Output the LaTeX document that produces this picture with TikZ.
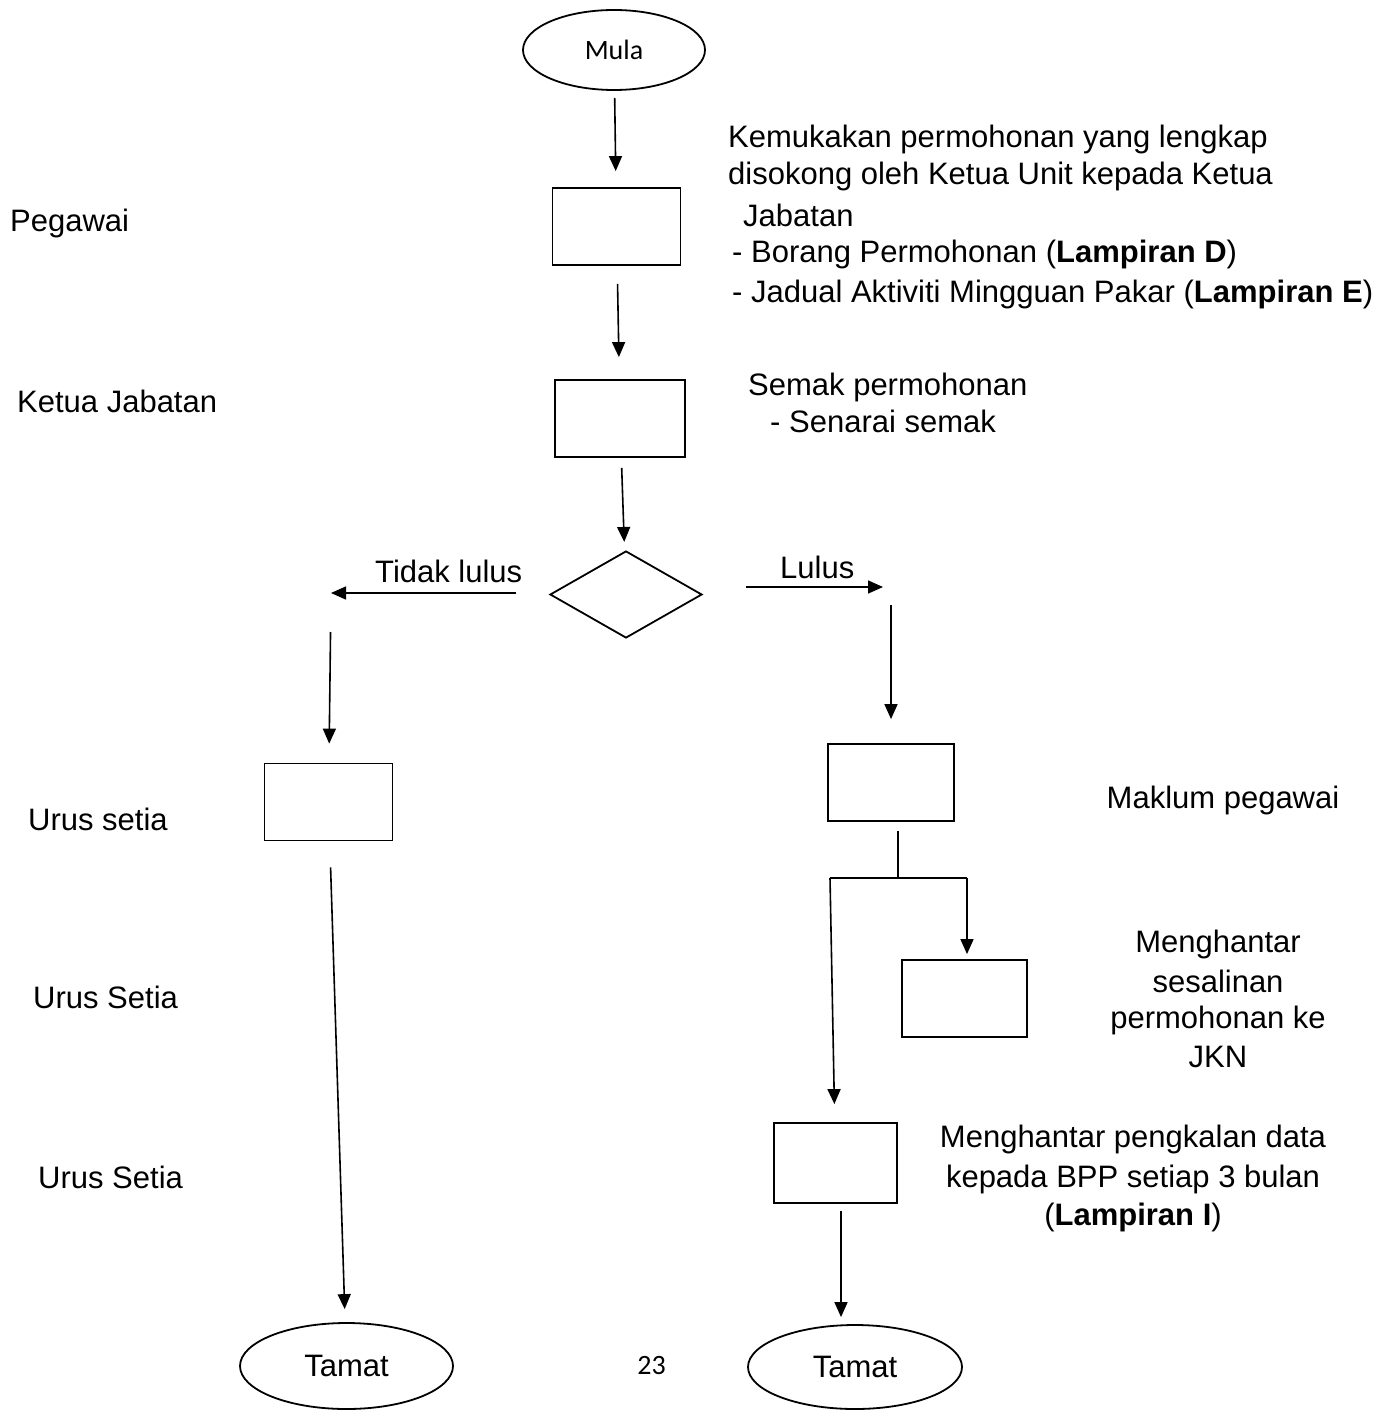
\documentclass[tikz,border=0pt]{standalone}
\usepackage{fontspec}
\setmainfont{Liberation Sans}
\newfontfamily\calfont{Carlito}
\usetikzlibrary{shapes.geometric,arrows.meta}
\begin{document}
\begin{tikzpicture}[x=1pt,y=-1pt,
  flowbox/.style={draw, line width=1.8pt, minimum width=128pt, minimum height=77pt, inner sep=0pt},
  term/.style={draw, ellipse, line width=1.8pt, inner sep=0pt, font=\fontsize{31}{36}\selectfont},
  dec/.style={draw, diamond, line width=1.8pt, minimum width=152pt, minimum height=87pt, aspect=1.75, inner sep=0pt},
  arr/.style={line width=1.6pt, -{Triangle[length=15pt,width=13pt]}},
  ln/.style={line width=1.6pt},
  lbl/.style={font=\fontsize{31}{36}\selectfont, inner sep=0pt, anchor=base west},
  clbl/.style={font=\fontsize{31}{36}\selectfont, inner sep=0pt, anchor=base}]
\useasboundingbox (0,0) rectangle (1375,1412);

% shapes
\node[term, minimum width=182pt, minimum height=80pt, font=\calfont\fontsize{28}{30}\selectfont] (mula) at (614,50) {Mula};
\node[flowbox] (b1) at (616.5,226.5) {};
\node[flowbox, minimum width=130pt] (b2) at (620,418.5) {};
\node[dec] (d) at (626,594.5) {};
\node[flowbox] (urus) at (328.5,802) {};
\node[flowbox, minimum width=126pt] (mak) at (891,782.5) {};
\node[flowbox, minimum width=125pt] (jkn) at (964.5,998.5) {};
\node[flowbox, minimum width=123pt, minimum height=80pt] (bpp) at (835.5,1163) {};
\node[term, minimum width=213pt, minimum height=86pt] (tamatL) at (346.5,1366) {Tamat};
\node[term, minimum width=214pt, minimum height=84pt] (tamatR) at (855,1367) {Tamat};
\node[font=\calfont\fontsize{28}{30}\selectfont, inner sep=0pt] (pg) at (651.5,1365.5) {23};

% helper coordinates
\coordinate (tl) at (331,593);
\coordinate (lr) at (883,587);
\coordinate (lrd) at (891,605);
\coordinate (sp) at (898,878);
\coordinate (spl) at (830,878);
\coordinate (spr) at (967,878);

% connectors
\draw[arr, shorten <=7pt, shorten >=16pt] (mula) -- (b1);
\draw[arr, shorten <=18pt, shorten >=22pt] (b1) -- (b2);
\draw[arr, shorten <=10pt, shorten >=9pt] (b2) -- (d);
\draw[arr, shorten <=33pt] (d.west |- tl) -- (tl);
\draw[arr, shorten <=43pt] (d.east |- lr) -- (lr);
\draw[arr, shorten <=39pt, shorten >=19pt] (tl) -- (urus);
\draw[arr, shorten >=24pt] (lrd) -- (mak);
\draw[arr, shorten <=26pt, shorten >=13pt] (urus) -- (tamatL);
\draw[ln, shorten <=9pt] (mak.south -| sp) -- (sp);
\draw[ln] (spl) -- (spr);
\draw[arr, shorten >=5pt] (spr) -- (jkn.north -| spr);
\draw[arr, shorten >=18pt] (spl) -- (bpp);
\draw[arr, shorten <=7pt, shorten >=7pt] ([xshift=5.5pt]bpp.south) -- ([xshift=-14pt]tamatR.north);

% connector labels
\node[lbl] (tltext) at (375,582) {Tidak lulus};
\node[lbl] (lrtext) at (780,578) {Lulus};

% left role labels
\node[lbl] (pegawai) at (10,232) {Pegawai};
\node[lbl] (kj) at (17,412) {Ketua Jabatan};
\node[lbl] (us1) at (28,830) {Urus setia};
\node[lbl] (us2) at (33,1008) {Urus Setia};
\node[lbl] (us3) at (38,1188) {Urus Setia};

% right descriptions
\node[lbl] (t1) at (728,148) {Kemukakan permohonan yang lengkap};
\node[lbl] (t2) at (728,185) {disokong oleh Ketua Unit kepada Ketua};
\node[lbl] (t3) at (743,227) {Jabatan};
\node[lbl] (t4) at (732,263) {- Borang Permohonan (\textbf{Lampiran D})};
\node[lbl] (t5) at (732,302) {- Jadual Aktiviti Mingguan Pakar (\textbf{Lampiran E})};
\node[lbl] (s1) at (748,395) {Semak permohonan};
\node[lbl] (s2) at (770,432) {- Senarai semak};
\node[clbl] (m1) at (1223,808) {Maklum pegawai};
\node[clbl] (j1) at (1218,952) {Menghantar};
\node[clbl] (j2) at (1218,992) {sesalinan};
\node[clbl] (j3) at (1218,1028) {permohonan ke};
\node[clbl] (j4) at (1218,1067) {JKN};
\node[clbl] (p1) at (1133,1147) {Menghantar pengkalan data};
\node[clbl] (p2) at (1133,1187) {kepada BPP setiap 3 bulan};
\node[clbl] (p3) at (1133,1225) {(\textbf{Lampiran I})};
\end{tikzpicture}
\end{document}
